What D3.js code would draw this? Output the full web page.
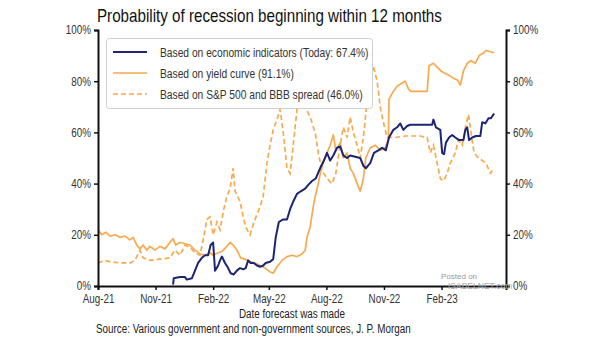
<!DOCTYPE html>
<html>
<head>
<meta charset="utf-8">
<script src="https://cdn.jsdelivr.net/npm/d3@7/dist/d3.min.js"></script>
<style>
  html, body { margin: 0; padding: 0; background: #fff; }
  svg { display: block; font-family: "Liberation Sans", Arial, sans-serif; }
</style>
</head>
<body>
<svg id="chart" width="605" height="341"></svg>
<script>
// Probability of recession beginning within 12 months (J.P. Morgan models)

// Economic-indicator model: [date, probability %]
const econIndicators = [
  ["2021-11-29", 0.5], ["2021-11-30", 3], ["2021-12-10", 3.5], ["2021-12-18", 3.5], ["2021-12-21", 2.5],
  ["2021-12-29", 3], ["2022-01-03", 6], ["2022-01-08", 9], ["2022-01-14", 11], ["2022-01-19", 12],
  ["2022-01-24", 12], ["2022-01-28", 16], ["2022-02-01", 17], ["2022-02-04", 6], ["2022-02-09", 8],
  ["2022-02-12", 10], ["2022-02-15", 11.5], ["2022-02-20", 9], ["2022-02-25", 7], ["2022-03-01", 5],
  ["2022-03-06", 4.5], ["2022-03-11", 6], ["2022-03-16", 7], ["2022-03-21", 6.5], ["2022-03-25", 7],
  ["2022-03-29", 10], ["2022-04-02", 9], ["2022-04-07", 9], ["2022-04-12", 8], ["2022-04-17", 7.5],
  ["2022-04-22", 8], ["2022-04-26", 9], ["2022-05-03", 9.5], ["2022-05-08", 10.5], ["2022-05-12", 19],
  ["2022-05-17", 25], ["2022-05-24", 26], ["2022-05-30", 26], ["2022-06-04", 30], ["2022-06-09", 33],
  ["2022-06-15", 36], ["2022-06-21", 37], ["2022-06-28", 38], ["2022-07-03", 39.5], ["2022-07-09", 41],
  ["2022-07-15", 42], ["2022-07-22", 46], ["2022-07-28", 49], ["2022-08-02", 52], ["2022-08-07", 49],
  ["2022-08-12", 51], ["2022-08-18", 54], ["2022-08-23", 54.5], ["2022-08-28", 51], ["2022-09-03", 50],
  ["2022-09-08", 51], ["2022-09-16", 50.5], ["2022-09-24", 50], ["2022-09-29", 47], ["2022-10-03", 46],
  ["2022-10-10", 48], ["2022-10-16", 52], ["2022-10-23", 53], ["2022-10-29", 54], ["2022-11-04", 53],
  ["2022-11-09", 58], ["2022-11-16", 61], ["2022-11-22", 62], ["2022-11-27", 63.5], ["2022-12-02", 61],
  ["2022-12-08", 62.5], ["2022-12-13", 63], ["2023-01-17", 63], ["2023-01-19", 65], ["2023-01-23", 62],
  ["2023-01-30", 61], ["2023-02-02", 52], ["2023-02-05", 51.5], ["2023-02-08", 56], ["2023-02-13", 58],
  ["2023-02-18", 59], ["2023-02-23", 58], ["2023-03-01", 57], ["2023-03-08", 57], ["2023-03-11", 61],
  ["2023-03-14", 62], ["2023-03-17", 57], ["2023-03-22", 58], ["2023-03-28", 58.6], ["2023-04-04", 58.6],
  ["2023-04-07", 64], ["2023-04-12", 63.5], ["2023-04-17", 65.5], ["2023-04-21", 65.5], ["2023-04-26", 67.4]
];

// Yield-curve model
const yieldCurve = [
  ["2021-08-01", 22], ["2021-08-07", 20], ["2021-08-14", 21], ["2021-08-20", 19.5], ["2021-08-28", 20],
  ["2021-09-05", 19], ["2021-09-13", 19.5], ["2021-09-21", 18], ["2021-09-26", 19], ["2021-10-02", 16],
  ["2021-10-07", 14.5], ["2021-10-12", 16], ["2021-10-18", 14], ["2021-10-23", 15.5], ["2021-10-31", 14],
  ["2021-11-08", 15.5], ["2021-11-16", 14.5], ["2021-11-24", 17], ["2021-11-29", 18.5], ["2021-12-03", 16],
  ["2021-12-10", 17], ["2021-12-18", 16.5], ["2021-12-26", 16], ["2022-01-03", 14], ["2022-01-11", 12.5],
  ["2022-01-19", 12], ["2022-01-27", 13], ["2022-02-01", 12], ["2022-02-09", 13], ["2022-02-15", 13.5],
  ["2022-02-21", 15], ["2022-02-28", 17], ["2022-03-05", 16], ["2022-03-11", 14], ["2022-03-17", 11],
  ["2022-03-24", 10.5], ["2022-04-01", 9.5], ["2022-04-09", 9], ["2022-04-17", 8], ["2022-04-25", 7],
  ["2022-05-03", 5.5], ["2022-05-08", 5], ["2022-05-14", 7.5], ["2022-05-22", 10], ["2022-05-30", 11.5],
  ["2022-06-07", 12], ["2022-06-15", 11.5], ["2022-06-23", 12.5], ["2022-06-28", 14], ["2022-07-01", 19],
  ["2022-07-06", 23], ["2022-07-11", 31], ["2022-07-15", 36], ["2022-07-19", 40], ["2022-07-23", 45],
  ["2022-07-28", 49], ["2022-08-02", 52], ["2022-08-07", 55], ["2022-08-12", 59], ["2022-08-16", 53],
  ["2022-08-23", 56], ["2022-08-28", 50], ["2022-09-03", 52], ["2022-09-08", 46], ["2022-09-13", 44],
  ["2022-09-19", 40], ["2022-09-24", 37], ["2022-09-29", 42], ["2022-10-03", 50], ["2022-10-10", 54],
  ["2022-10-18", 55], ["2022-10-26", 53], ["2022-11-03", 54], ["2022-11-08", 57], ["2022-11-09", 73],
  ["2022-11-16", 76], ["2022-11-22", 78], ["2022-11-28", 79], ["2022-12-05", 80], ["2022-12-10", 77],
  ["2022-12-14", 76], ["2023-01-09", 76], ["2023-01-12", 86], ["2023-01-19", 87], ["2023-01-25", 85.5],
  ["2023-01-31", 84], ["2023-02-07", 83], ["2023-02-15", 82], ["2023-02-21", 81], ["2023-02-26", 80.5],
  ["2023-03-03", 78.5], ["2023-03-08", 84], ["2023-03-14", 87], ["2023-03-20", 88], ["2023-03-27", 87],
  ["2023-04-02", 90], ["2023-04-09", 91], ["2023-04-13", 92], ["2023-04-20", 91.5], ["2023-04-26", 91.1]
];

// S&P 500 and BBB-spread model
const spxBbbSpread = [
  ["2021-08-01", 9], ["2021-08-12", 10], ["2021-08-20", 9.5], ["2021-09-05", 9], ["2021-09-21", 9],
  ["2021-09-29", 10], ["2021-10-07", 14], ["2021-10-12", 11], ["2021-10-23", 10], ["2021-11-08", 10.5],
  ["2021-11-24", 11], ["2021-12-02", 14], ["2021-12-10", 12], ["2021-12-18", 16], ["2021-12-26", 15],
  ["2022-01-03", 13], ["2022-01-11", 12], ["2022-01-16", 18], ["2022-01-22", 26], ["2022-01-27", 27],
  ["2022-02-01", 20], ["2022-02-07", 25], ["2022-02-12", 22], ["2022-02-18", 30], ["2022-02-23", 35],
  ["2022-02-28", 38], ["2022-03-05", 46], ["2022-03-08", 37], ["2022-03-16", 33], ["2022-03-21", 27],
  ["2022-03-25", 23], ["2022-04-01", 20], ["2022-04-06", 24], ["2022-04-12", 28], ["2022-04-17", 31],
  ["2022-04-22", 35], ["2022-04-28", 48], ["2022-05-03", 55], ["2022-05-08", 61], ["2022-05-14", 65],
  ["2022-05-19", 69], ["2022-05-24", 60], ["2022-05-30", 46], ["2022-06-04", 44], ["2022-06-09", 55],
  ["2022-06-15", 69], ["2022-06-20", 72], ["2022-06-28", 70], ["2022-07-06", 66], ["2022-07-14", 60],
  ["2022-07-19", 52], ["2022-07-25", 45], ["2022-08-02", 42], ["2022-08-10", 40], ["2022-08-16", 44],
  ["2022-08-23", 55], ["2022-08-28", 62], ["2022-09-03", 58], ["2022-09-08", 66], ["2022-09-13", 60],
  ["2022-09-19", 55], ["2022-09-24", 50], ["2022-09-29", 58], ["2022-10-05", 72], ["2022-10-10", 80],
  ["2022-10-15", 86], ["2022-10-21", 80], ["2022-10-26", 70], ["2022-10-31", 64], ["2022-11-06", 58],
  ["2022-11-19", 58], ["2022-12-05", 58.6], ["2022-12-29", 58.6], ["2023-01-09", 58], ["2023-01-14", 52],
  ["2023-01-19", 55], ["2023-01-25", 48], ["2023-01-30", 42], ["2023-02-04", 41], ["2023-02-10", 44],
  ["2023-02-15", 48], ["2023-02-23", 52], ["2023-02-28", 57], ["2023-03-06", 55], ["2023-03-11", 62],
  ["2023-03-16", 67], ["2023-03-20", 60], ["2023-03-25", 52], ["2023-04-01", 50], ["2023-04-07", 49],
  ["2023-04-13", 48], ["2023-04-20", 44], ["2023-04-26", 46]
];

const seriesNames = [
  "Based on economic indicators (Today: 67.4%)",
  "Based on yield curve (91.1%)",
  "Based on S&P 500 and BBB spread (46.0%)"
];
const xTickDates = ["2021-08-01", "2021-11-01", "2022-02-01", "2022-05-01", "2022-08-01", "2022-11-01", "2023-02-01"];
const yTickValues = [0, 20, 40, 60, 80, 100];
const xDomain = ["2021-08-01", "2023-05-15"];

const NAVY = "#1c2474";
const ORANGE = "#f9a94e";

const parse = d3.timeParse("%Y-%m-%d");
const toPoints = arr => arr.map(([d, v]) => ({ date: parse(d), value: v }));

// Condense text horizontally (narrow sans look)
const NARROW = 0.82;
function narrow(sel) {
  sel.each(function () {
    const w = this.getComputedTextLength();
    d3.select(this)
      .attr("textLength", (w * NARROW).toFixed(2))
      .attr("lengthAdjust", "spacingAndGlyphs");
  });
}

const svg = d3.select("#chart");
const margin = { left: 98, right: 605 - 506, top: 30, bottom: 341 - 286 };
const W = 605, H = 341;

const x = d3.scaleTime()
  .domain(xDomain.map(parse))
  .range([margin.left, W - margin.right]);
const y = d3.scaleLinear()
  .domain([0, 100])
  .range([H - margin.bottom, margin.top]);

// Title
svg.append("text")
  .attr("x", 97).attr("y", 22)
  .attr("font-size", 18.5)
  .attr("fill", "#111")
  .text("Probability of recession beginning within 12 months")
  .call(narrow);

// Lines
const line = d3.line()
  .x(d => x(d.date))
  .y(d => y(d.value));

const plot = svg.append("g");
plot.append("path")
  .datum(toPoints(yieldCurve))
  .attr("fill", "none").attr("stroke", ORANGE).attr("stroke-width", 1.7)
  .attr("stroke-linejoin", "round")
  .attr("d", line);
plot.append("path")
  .datum(toPoints(spxBbbSpread))
  .attr("fill", "none").attr("stroke", ORANGE).attr("stroke-width", 1.7)
  .attr("stroke-dasharray", "5,3")
  .attr("d", line);
plot.append("path")
  .datum(toPoints(econIndicators))
  .attr("fill", "none").attr("stroke", NAVY).attr("stroke-width", 2)
  .attr("stroke-linejoin", "round")
  .attr("d", line);

// Axes
const fmtPct = d => d + "%";
const styleAxis = g => {
  g.selectAll(".domain").attr("stroke", "#111").attr("stroke-width", 2);
  g.selectAll(".tick line").attr("stroke", "#111").attr("stroke-width", 1.5);
  g.selectAll(".tick text").attr("fill", "#333").attr("font-size", 12)
    .attr("font-family", "Liberation Sans, Arial, sans-serif")
    .call(narrow);
};

svg.append("g")
  .attr("transform", `translate(${margin.left},0)`)
  .call(d3.axisLeft(y).tickValues(yTickValues).tickFormat(fmtPct).tickSizeOuter(0).tickSize(4).tickPadding(3))
  .call(styleAxis);

svg.append("g")
  .attr("transform", `translate(${W - margin.right},0)`)
  .call(d3.axisRight(y).tickValues(yTickValues).tickFormat(fmtPct).tickSizeOuter(0).tickSize(4).tickPadding(3))
  .call(styleAxis);

svg.append("g")
  .attr("transform", `translate(0,${H - margin.bottom})`)
  .call(d3.axisBottom(x).tickValues(xTickDates.map(parse)).tickFormat(d3.timeFormat("%b-%y"))
    .tickSizeOuter(0).tickSize(4).tickPadding(4))
  .call(styleAxis);

// Axis title and source
svg.append("text")
  .attr("x", 292).attr("y", 318).attr("text-anchor", "middle")
  .attr("font-size", 12).attr("fill", "#222")
  .text("Date forecast was made")
  .call(narrow);
svg.append("text")
  .attr("x", 96).attr("y", 333)
  .attr("font-size", 12).attr("fill", "#222")
  .text("Source: Various government and non-government sources, J. P. Morgan")
  .call(narrow);

// Legend
const legend = svg.append("g");
legend.append("rect")
  .attr("x", 106.5).attr("y", 38.5).attr("width", 266).attr("height", 70)
  .attr("rx", 3).attr("fill", "#fff").attr("stroke", "#cfcfcf");
const legendStyles = [
  { color: NAVY, dash: null, width: 2 },
  { color: ORANGE, dash: null, width: 1.7 },
  { color: ORANGE, dash: "5,3", width: 1.7 }
];
seriesNames.forEach((name, i) => {
  const yy = 52 + i * 21;
  legend.append("line")
    .attr("x1", 113).attr("x2", 147).attr("y1", yy).attr("y2", yy)
    .attr("stroke", legendStyles[i].color).attr("stroke-width", legendStyles[i].width)
    .attr("stroke-dasharray", legendStyles[i].dash);
  legend.append("text")
    .attr("x", 160).attr("y", yy + 4.5)
    .attr("font-size", 12.5).attr("fill", "#333")
    .text(name)
    .call(narrow);
});

// Watermark
svg.append("text")
  .attr("x", 441).attr("y", 279).attr("font-size", 8).attr("fill", "#999")
  .text("Posted on");
svg.append("text")
  .attr("x", 448).attr("y", 289).attr("font-size", 8.5).attr("fill", "#aaa")
  .text("ISABELNET.com");
</script>
</body>
</html>
